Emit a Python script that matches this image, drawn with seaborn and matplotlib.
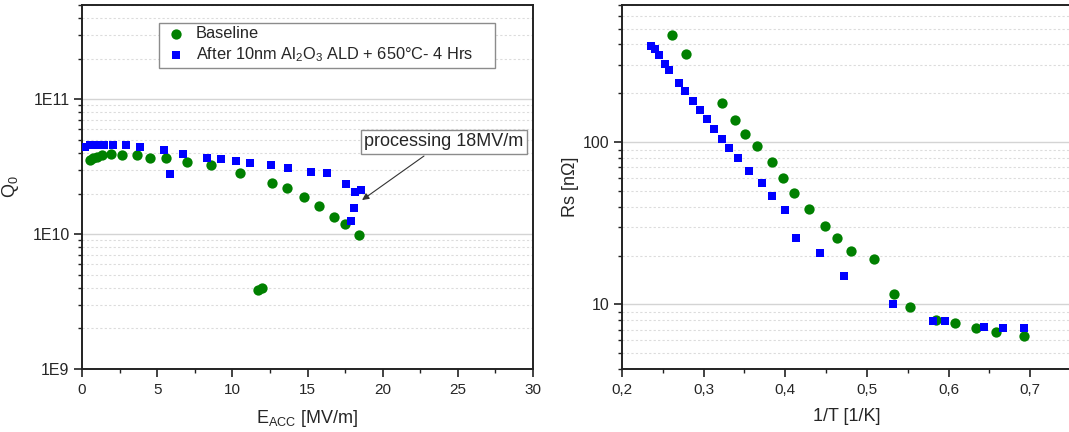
#!/usr/bin/env python3
"""Q0 vs Eacc and Rs vs 1/T, baseline vs after Al2O3 ALD + bake."""

import numpy as np
import pandas as pd
import matplotlib
matplotlib.use("Agg")
import matplotlib.pyplot as plt
from matplotlib.ticker import FuncFormatter, LogLocator, MultipleLocator, NullFormatter
import seaborn as sns

# left panel: Q0 vs Eacc
base_eacc = [0.53, 0.75, 0.98, 1.31, 1.91, 2.64, 3.64, 4.52, 5.59, 6.97, 8.58, 10.51,
             11.73, 11.95, 12.66, 13.62, 14.79, 15.75, 16.76, 17.52, 18.41]
base_q0 = [3.53e10, 3.64e10, 3.74e10, 3.85e10, 3.96e10, 3.85e10, 3.85e10, 3.67e10, 3.64e10,
           3.43e10, 3.23e10, 2.84e10, 3.85e9, 4.0e9, 2.41e10, 2.18e10, 1.87e10, 1.63e10,
           1.35e10, 1.19e10, 9.8e9]
ald_eacc = [0.2, 0.53, 0.86, 1.2, 1.46, 2.04, 2.91, 3.88, 5.46, 5.85, 6.74, 8.30, 9.25,
            10.25, 11.18, 12.55, 13.73, 15.24, 16.30, 17.56, 18.16, 18.58, 18.10, 17.92]
ald_q0 = [4.44e10, 4.56e10, 4.61e10, 4.61e10, 4.61e10, 4.61e10, 4.56e10, 4.39e10, 4.24e10,
          2.78e10, 3.96e10, 3.70e10, 3.62e10, 3.47e10, 3.36e10, 3.23e10, 3.07e10, 2.89e10,
          2.83e10, 2.37e10, 2.04e10, 2.13e10, 1.55e10, 1.26e10]

# right panel: Rs vs 1/T
base_invT = [0.261, 0.278, 0.323, 0.338, 0.351, 0.365, 0.384, 0.397, 0.411, 0.429, 0.449,
             0.463, 0.481, 0.509, 0.533, 0.553, 0.585, 0.608, 0.634, 0.658, 0.692]
base_rs = [457, 348, 175, 137, 113, 94.5, 75.8, 60.3, 48.7, 38.9, 30.6, 25.6, 21.3, 19.0,
           11.6, 9.58, 8.0, 7.71, 7.13, 6.78, 6.37]
ald_invT = [0.236, 0.241, 0.245, 0.253, 0.258, 0.270, 0.277, 0.287, 0.295, 0.304, 0.313,
            0.323, 0.331, 0.342, 0.355, 0.371, 0.384, 0.400, 0.413, 0.443, 0.472, 0.532,
            0.581, 0.596, 0.643, 0.667, 0.693]
ald_rs = [391, 373, 344, 302, 279, 232, 208, 180, 158, 139, 121, 104, 92.2, 79.3, 66.8,
          56.1, 46.7, 38.0, 25.8, 20.6, 15.0, 10.1, 7.96, 7.89, 7.24, 7.18, 7.18]

base_label = "Baseline"
ald_label = r"After 10nm Al$_2$O$_3$ ALD + 650°C- 4 Hrs     "

sns.set_theme(style="ticks")
plt.rcParams['font.family'] = ['Liberation Sans', 'DejaVu Sans']
plt.rcParams['mathtext.fontset'] = 'custom'
plt.rcParams['mathtext.rm'] = 'Liberation Sans'
plt.rcParams['mathtext.it'] = 'Liberation Sans'
plt.rcParams['mathtext.default'] = 'regular'

fig = plt.figure(figsize=(10.69, 4.32), dpi=100)
ax1 = fig.add_axes([82 / 1069, 1 - 369 / 432, 451 / 1069, 364 / 432])
ax2 = fig.add_axes([622 / 1069, 1 - 369 / 432, 449 / 1069, 364 / 432])

GREEN = "#008000"
BLUE = "#0000ff"

df_l_base = pd.DataFrame({"x": base_eacc, "y": base_q0})
df_l_ald = pd.DataFrame({"x": ald_eacc, "y": ald_q0})
df_r_base = pd.DataFrame({"x": base_invT, "y": base_rs})
df_r_ald = pd.DataFrame({"x": ald_invT, "y": ald_rs})

for ax, d_base, d_ald in [(ax1, df_l_base, df_l_ald), (ax2, df_r_base, df_r_ald)]:
    sns.scatterplot(data=d_base, x="x", y="y", ax=ax, color=GREEN, marker="o",
                    s=55, linewidth=0, label=base_label, zorder=3)
    sns.scatterplot(data=d_ald, x="x", y="y", ax=ax, color=BLUE, marker="s",
                    s=40, linewidth=0, label=ald_label, zorder=3)
    ax.set_yscale("log")
    for side in ["left", "bottom", "top", "right"]:
        ax.spines[side].set_linewidth(1.4)
        ax.spines[side].set_color("#222222")
    ax.tick_params(which="major", direction="out", length=6, width=1.2, color="#222222")
    ax.tick_params(which="minor", direction="out", length=3, width=1.0, color="#222222")
    ax.tick_params(axis="x", labelsize=11, pad=4)
    ax.tick_params(axis="y", labelsize=11.5, pad=3)
    ax.yaxis.set_minor_locator(LogLocator(base=10, subs=np.arange(2, 10)))
    ax.yaxis.set_minor_formatter(NullFormatter())
    ax.grid(True, which="major", axis="y", color="#d4d4d4", lw=1.0, ls="-", zorder=0)
    ax.grid(True, which="minor", axis="y", color="#dcdcdc", lw=0.8, ls=(0, (2, 2)), zorder=0)
    ax.grid(False, axis="x", which="both")

# left panel
ax1.set_xlim(0, 30)
ax1.set_ylim(1e9, 5e11)
ax1.xaxis.set_major_locator(MultipleLocator(5))
ax1.xaxis.set_minor_locator(MultipleLocator(2.5))
ax1.yaxis.set_major_formatter(FuncFormatter(lambda v, p: "1E%d" % round(np.log10(v))))
ax1.set_xlabel(r"E$_{ACC}$ [MV/m]", fontsize=13, labelpad=8)
ax1.set_ylabel(r"Q$_0$", fontsize=13, labelpad=8)

leg = ax1.legend(loc="upper left", bbox_to_anchor=(0.171, 0.951), borderaxespad=0,
                 fontsize=11.8, frameon=True, fancybox=False, framealpha=1,
                 edgecolor="#8c8c8c", handletextpad=0.4, handlelength=1.6, borderpad=0.22,
                 labelspacing=0.25, markerscale=1.0)
leg.get_frame().set_linewidth(1.0)

ax1.annotate("processing 18MV/m", xy=(18.63, 1.79e10), xytext=(24.08, 4.84e10),
             ha="center", va="center", fontsize=13,
             bbox=dict(boxstyle="square,pad=0.2", fc="white", ec="#8c8c8c", lw=1.0),
             arrowprops=dict(arrowstyle="-|>", color="#333333", lw=0.8,
                             mutation_scale=10, shrinkB=0))

# right panel
ax2.set_xlim(0.2, 0.75)
ax2.set_ylim(4, 700)
ax2.xaxis.set_major_locator(MultipleLocator(0.1))
ax2.xaxis.set_minor_locator(MultipleLocator(0.05))
ax2.xaxis.set_major_formatter(FuncFormatter(lambda v, p: ("%.1f" % v).replace(".", ",")))
ax2.yaxis.set_major_formatter(FuncFormatter(lambda v, p: "%d" % round(v)))
ax2.set_xlabel("1/T [1/K]", fontsize=13, labelpad=8)
ax2.set_ylabel("Rs [n\u03a9]", fontsize=13, labelpad=3)
ax2.get_legend().remove()

fig.savefig("out.png", dpi=100)
